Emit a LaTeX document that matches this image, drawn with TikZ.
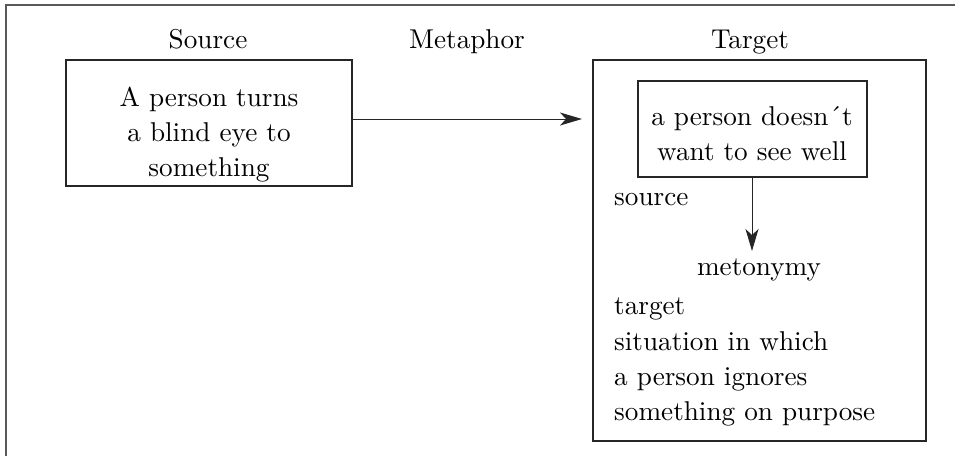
\documentclass[tikz,border=0pt]{standalone}
\usetikzlibrary{arrows.meta}
\usepackage{fontspec}
\setmainfont{lmroman10-regular.otf}
\tikzset{
  lbl/.style={inner sep=0pt, font=\fontsize{27.2}{35}\selectfont},
  boxline/.style={draw=black!85, line width=1.5pt},
  arr/.style={draw=black!85, line width=1pt, -{Stealth[length=22pt,width=13pt,inset=6pt]}},
}
\begin{document}
\begin{tikzpicture}[x=1pt,y=-1pt]
\useasboundingbox (0,0) rectangle (955,456);
% outer frame (top and left only visible)
\draw[draw=black!65, line width=2pt] (6,456) -- (6,5) -- (955,5);
% labels
\node[lbl, anchor=base] (srclbl) at (208,48) {Source};
\node[lbl, anchor=base] (metlbl) at (467,48) {Metaphor};
\node[lbl, anchor=base] (tgtlbl) at (750,48) {Target};
% source box
\draw[boxline] (66,60) rectangle (352,186);
\coordinate (srcE) at (352,119);
\node[lbl, anchor=base] (s1) at (209,106) {A person turns};
\node[lbl, anchor=base] (s2) at (209,141) {a blind eye to};
\node[lbl, anchor=base] (s3) at (209,176) {something};
% target box
\draw[boxline] (593,60) rectangle (926,441);
\coordinate (tgtW) at (593,119);
% inner box
\draw[boxline] (638,81) rectangle (867,177);
\coordinate (innS) at (752,177);
\node[lbl, anchor=base] (i1) at (752,125) {a person doesn´t};
\node[lbl, anchor=base] (i2) at (752,160) {want to see well};
\node[lbl, anchor=base west] (srcword) at (614,205) {source};
\node[lbl, anchor=base] (meto) at (759,275) {metonymy};
\coordinate (metoN) at (752,251);
\node[lbl, anchor=base west] (t1) at (614,314) {target};
\node[lbl, anchor=base west] (t2) at (614,350) {situation in which};
\node[lbl, anchor=base west] (t3) at (614,385) {a person ignores};
\node[lbl, anchor=base west] (t4) at (614,420) {something on purpose};
% arrows
\draw[arr, shorten >=11pt] (srcE) -- (tgtW);
\draw[arr] (innS) -- (metoN);
\end{tikzpicture}
\end{document}
